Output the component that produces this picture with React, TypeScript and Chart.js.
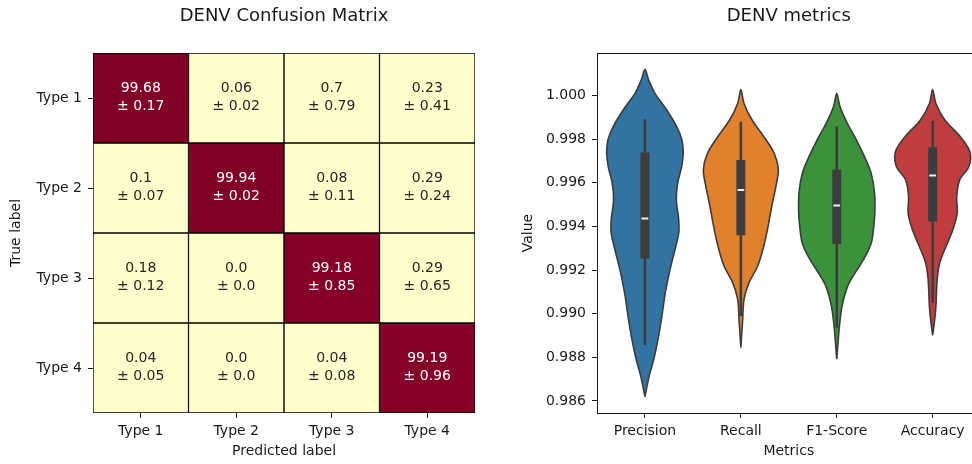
import React, { useEffect, useRef } from "react";
import { Chart, registerables } from "chart.js";

Chart.register(...registerables);

// ---------- Confusion matrix data ----------
const typeLabels = ["Type 1", "Type 2", "Type 3", "Type 4"];
const cmMean = [
  [99.68, 0.06, 0.7, 0.23],
  [0.1, 99.94, 0.08, 0.29],
  [0.18, 0.0, 99.18, 0.29],
  [0.04, 0.0, 0.04, 99.19],
];
const cmStd = [
  [0.17, 0.02, 0.79, 0.41],
  [0.07, 0.02, 0.11, 0.24],
  [0.12, 0.0, 0.85, 0.65],
  [0.05, 0.0, 0.08, 0.96],
];

// ---------- Violin data ----------
const metricLabels = ["Precision", "Recall", "F1-Score", "Accuracy"];
const valueTicks = [0.986, 0.988, 0.99, 0.992, 0.994, 0.996, 0.998, 1.0];

const precisionY = [0.9862, 0.98714, 0.98791, 0.98882, 0.98989, 0.99095, 0.99202, 0.99293, 0.99369, 0.9943, 0.99522, 0.99598, 0.99674, 0.99735, 0.99796, 0.99857, 0.99933, 1.00009, 1.0007, 1.00119];
const precisionW = [0, 0.044, 0.092, 0.136, 0.177, 0.212, 0.261, 0.313, 0.352, 0.352, 0.327, 0.341, 0.383, 0.399, 0.386, 0.331, 0.227, 0.104, 0.039, 0];

const recallY = [0.98844, 0.98973, 0.99065, 0.99141, 0.99217, 0.99308, 0.994, 0.99491, 0.99582, 0.99659, 0.99735, 0.99811, 0.99887, 0.99963, 1.00027];
const recallW = [0, 0.019, 0.033, 0.084, 0.174, 0.238, 0.284, 0.322, 0.365, 0.391, 0.348, 0.24, 0.117, 0.033, 0];

const f1Y = [0.98791, 0.98943, 0.99034, 0.99125, 0.99187, 0.99247, 0.99324, 0.994, 0.99461, 0.99552, 0.99644, 0.99719, 0.99796, 0.99872, 0.99948, 1.00009];
const f1W = [0, 0.028, 0.055, 0.113, 0.191, 0.279, 0.36, 0.386, 0.397, 0.394, 0.358, 0.289, 0.204, 0.11, 0.034, 0];

const accuracyY = [0.989, 0.98973, 0.99034, 0.99156, 0.99232, 0.99308, 0.99385, 0.99461, 0.99537, 0.99613, 0.99674, 0.99742, 0.99811, 0.99887, 0.99963, 1.00027];
const accuracyW = [0, 0.021, 0.034, 0.047, 0.073, 0.139, 0.212, 0.256, 0.251, 0.282, 0.378, 0.388, 0.287, 0.127, 0.034, 0];

const whiskerLow = [0.98855, 0.98988, 0.98935, 0.9905];
const quartile1 = [0.99251, 0.99359, 0.99319, 0.99422];
const medians = [0.99436, 0.99567, 0.99496, 0.99633];
const quartile3 = [0.99738, 0.99704, 0.99659, 0.99762];
const whiskerHigh = [0.9989, 0.99879, 0.99857, 0.99884];

// ---------- Styles ----------
const FONT = "'DejaVu Sans', sans-serif";
const TEXT = "#1a1a1a";
const violinColors = ["#3274a1", "#e1812c", "#3a923a", "#c03d3e"];
const EDGE = "#3c3c3c";
const ylOrRdStops = ["#ffffcc", "#ffeda0", "#fed976", "#feb24c", "#fd8d3c", "#fc4e2a", "#e31a1c", "#bd0026", "#800026"];

function hexToRgb(h: string) {
  return [parseInt(h.slice(1, 3), 16), parseInt(h.slice(3, 5), 16), parseInt(h.slice(5, 7), 16)];
}
function ylOrRd(t: number) {
  const tt = Math.max(0, Math.min(1, t)) * (ylOrRdStops.length - 1);
  const i = Math.min(Math.floor(tt), ylOrRdStops.length - 2);
  const f = tt - i;
  const a = hexToRgb(ylOrRdStops[i]);
  const b = hexToRgb(ylOrRdStops[i + 1]);
  const c = a.map((v, k) => Math.round(v + (b[k] - v) * f));
  return `rgb(${c[0]},${c[1]},${c[2]})`;
}
function fmt(v: number) {
  return Number.isInteger(v) ? v.toFixed(1) : String(v);
}

const tickFont = { size: 14, family: FONT };
const gridOpts = {
  display: true,
  drawOnChartArea: false,
  drawTicks: true,
  tickLength: 5,
  tickColor: TEXT,
  tickWidth: 1,
};
const titleOpts = (text: string) => ({
  display: true,
  text,
  fullSize: false,
  color: TEXT,
  font: { size: 18, family: FONT, weight: "normal" },
  padding: { top: 5.5, bottom: 25.9 },
});

const heatLabels = {
  id: "heatLabels",
  afterDatasetsDraw(chart: any) {
    const ctx = chart.ctx;
    const vmax = Math.max(...cmMean.flat());
    ctx.save();
    ctx.font = `14px ${FONT}`;
    ctx.textAlign = "center";
    ctx.textBaseline = "middle";
    cmMean.forEach((row, r) => {
      const meta = chart.getDatasetMeta(r);
      row.forEach((v, c) => {
        const el = meta.data[c];
        const { x, y, base } = el.getProps(["x", "y", "base"], true);
        const cy = (y + base) / 2;
        ctx.fillStyle = v / vmax > 0.5 ? "#ffffff" : "#262626";
        ctx.fillText(fmt(v), x, cy - 9.7);
        ctx.fillText("± " + fmt(cmStd[r][c]), x, cy + 8);
      });
    });
    ctx.restore();
  },
};

const frameTop = {
  id: "frameTop",
  afterDatasetsDraw(chart: any) {
    const { ctx, chartArea } = chart;
    ctx.save();
    ctx.strokeStyle = TEXT;
    ctx.lineWidth = 1;
    ctx.beginPath();
    ctx.moveTo(chartArea.left, chartArea.top + 0.5);
    ctx.lineTo(chartArea.right, chartArea.top + 0.5);
    ctx.stroke();
    ctx.restore();
  },
};

function heatConfig(): any {
  const vmax = Math.max(...cmMean.flat());
  const datasets = cmMean.map((row, r) => ({
    label: typeLabels[r],
    data: row.map(() => 1),
    backgroundColor: row.map((v) => ylOrRd(v / vmax)),
    borderColor: "#000000",
    borderWidth: 1,
    borderSkipped: false,
    barPercentage: 1,
    categoryPercentage: 1,
  }));
  return {
    type: "bar",
    data: { labels: typeLabels, datasets },
    options: {
      animation: false,
      responsive: false,
      devicePixelRatio: 1,
      layout: { padding: { left: 0, right: 15, top: 0, bottom: 0 } },
      plugins: {
        legend: { display: false },
        tooltip: { enabled: false },
        title: titleOpts("DENV Confusion Matrix"),
      },
      scales: {
        x: {
          stacked: true,
          grid: { ...gridOpts, offset: false },
          border: { display: false },
          ticks: { font: tickFont, color: TEXT, padding: 4.5, maxRotation: 0, autoSkip: false },
          title: { display: true, text: "Predicted label", color: TEXT, font: tickFont, padding: { top: 0, bottom: 4 } },
          afterFit: (s: any) => { s.height = 51; },
        },
        y: {
          type: "linear",
          stacked: true,
          reverse: true,
          min: 0,
          max: 4,
          afterBuildTicks: (s: any) => { s.ticks = typeLabels.map((_, i) => ({ value: i + 0.5 })); },
          grid: gridOpts,
          border: { display: false },
          ticks: { font: tickFont, color: TEXT, padding: 6, callback: (v: any) => typeLabels[Math.floor(Number(v))] },
          title: { display: true, text: "True label", color: TEXT, font: tickFont, padding: { top: 8, bottom: 0 } },
          afterFit: (s: any) => { s.width = 93; },
        },
      },
    },
    plugins: [heatLabels],
  };
}

function violinConfig(): any {
  const shapes = [
    [precisionY, precisionW],
    [recallY, recallW],
    [f1Y, f1W],
    [accuracyY, accuracyW],
  ];
  const datasets: any[] = [];
  shapes.forEach(([ys, ws], i) => {
    const pts: { x: number; y: number }[] = [];
    for (let k = 0; k < ys.length; k++) pts.push({ x: i + ws[k], y: ys[k] });
    for (let k = ys.length - 2; k >= 0; k--) pts.push({ x: i - ws[k], y: ys[k] });
    datasets.push({
      data: pts,
      showLine: true,
      fill: "shape",
      backgroundColor: violinColors[i],
      borderColor: EDGE,
      borderWidth: 1.6,
      pointRadius: 0,
      tension: 0.3,
      order: 4,
    });
  });
  metricLabels.forEach((_, i) => {
    datasets.push({
      data: [{ x: i, y: whiskerLow[i] }, { x: i, y: whiskerHigh[i] }],
      showLine: true, fill: false, borderColor: EDGE, borderWidth: 2.5, pointRadius: 0, order: 3,
    });
    datasets.push({
      data: [{ x: i, y: quartile1[i] }, { x: i, y: quartile3[i] }],
      showLine: true, fill: false, borderColor: EDGE, borderWidth: 9, borderCapStyle: "butt", pointRadius: 0, order: 2,
    });
    datasets.push({
      data: [{ x: i - 0.035, y: medians[i] }, { x: i + 0.035, y: medians[i] }],
      showLine: true, fill: false, borderColor: "#f0f0f0", borderWidth: 2, borderCapStyle: "butt", pointRadius: 0, order: 1,
    });
  });
  return {
    type: "scatter",
    data: { datasets },
    options: {
      animation: false,
      responsive: false,
      devicePixelRatio: 1,
      layout: { padding: { left: 0, right: 9.4, top: 0, bottom: 0 } },
      plugins: {
        legend: { display: false },
        tooltip: { enabled: false },
        title: titleOpts("DENV metrics"),
      },
      scales: {
        x: {
          type: "linear",
          min: -0.5,
          max: 3.5,
          afterBuildTicks: (s: any) => { s.ticks = metricLabels.map((_, i) => ({ value: i })); },
          grid: gridOpts,
          border: { display: true, color: TEXT, width: 1 },
          ticks: { font: tickFont, color: TEXT, padding: 4.5, maxRotation: 0, autoSkip: false, callback: (v: any) => metricLabels[Math.round(Number(v))] },
          title: { display: true, text: "Metrics", color: TEXT, font: tickFont, padding: { top: 0, bottom: 4 } },
          afterFit: (s: any) => { s.height = 51; },
        },
        y: {
          type: "linear",
          min: 0.98545,
          max: 1.00194,
          afterBuildTicks: (s: any) => { s.ticks = valueTicks.map((v) => ({ value: v })); },
          grid: gridOpts,
          border: { display: true, color: TEXT, width: 1 },
          ticks: { font: tickFont, color: TEXT, padding: 6, callback: (v: any) => Number(v).toFixed(3) },
          title: { display: true, text: "Value", color: TEXT, font: tickFont, padding: { top: 30, bottom: 0 } },
          afterFit: (s: any) => { s.width = 107; },
        },
      },
    },
    plugins: [frameTop],
  };
}

export default function App() {
  const leftRef = useRef<HTMLCanvasElement>(null);
  const rightRef = useRef<HTMLCanvasElement>(null);
  useEffect(() => {
    const c1 = new Chart(leftRef.current as HTMLCanvasElement, heatConfig());
    const c2 = new Chart(rightRef.current as HTMLCanvasElement, violinConfig());
    return () => {
      c1.destroy();
      c2.destroy();
    };
  }, []);
  return (
    <div style={{ position: "absolute", left: 0, top: 0, width: 972, height: 464, overflow: "hidden", background: "#ffffff" }}>
      <canvas ref={leftRef} width={490} height={464} style={{ position: "absolute", left: 0, top: 0, width: 490, height: 464 }} />
      <canvas ref={rightRef} width={500} height={464} style={{ position: "absolute", left: 490, top: 0, width: 500, height: 464 }} />
    </div>
  );
}
